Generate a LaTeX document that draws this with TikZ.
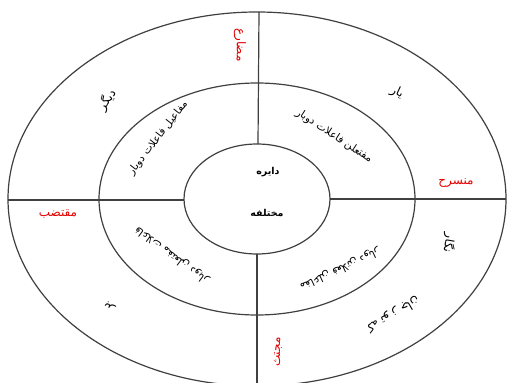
\documentclass[tikz,border=0pt]{standalone}
\usepackage{fontspec}
\newfontfamily\ar[Script=Arabic]{DejaVu Sans}
\TeXXeTstate=1
\begin{document}
\begin{tikzpicture}[x=1pt,y=-1pt,
  ring/.style={draw=black!75,line width=1.2pt},
  spoke/.style={draw=black!75,line width=1.2pt},
  redlbl/.style={text=red!90!black,font=\ar\fontsize{12}{13}\selectfont,inner sep=0pt},
  inlbl/.style={text=black,font=\ar\fontsize{10.5}{12}\selectfont,inner sep=0pt},
  outlbl/.style={text=black,font=\ar\fontsize{12}{13}\selectfont,inner sep=0pt},
  ctrlbl/.style={text=black,font=\ar\bfseries\fontsize{9.5}{11}\selectfont,inner sep=0pt}]
\useasboundingbox (0,0) rectangle (512,383);
\fill[white] (0,0) rectangle (512,383);
\coordinate (C) at (257,199);
% rings
\draw[ring] (C) ellipse [x radius=249pt, y radius=187pt];
\draw[ring] (C) ellipse [x radius=158pt, y radius=116pt];
\draw[ring] (C) ellipse [x radius=73pt, y radius=55pt];
% spokes
\coordinate (tO) at (259,12);  \coordinate (tI) at (258,144);
\coordinate (bO) at (257,386); \coordinate (bI) at (257,254);
\coordinate (lO) at (8,200);   \coordinate (lI) at (184,200);
\coordinate (rO) at (506,199); \coordinate (rI) at (330,199);
\draw[spoke] (tO) -- (tI);
\draw[spoke] (bO) -- (bI);
\draw[spoke] (lO) -- (lI);
\draw[spoke] (rO) -- (rI);
% centre
\node[ctrlbl] (c1) at (268,172) {\beginR دایره\endR};
\node[ctrlbl] (c2) at (267,213) {\beginR مختلفه\endR};
% red labels
\node[redlbl,rotate=-90] (mozare) at (240,45) {\beginR مضارع\endR};
\node[redlbl] (monsareh) at (456,183) {\beginR منسرح\endR};
\node[redlbl] (moqtazab) at (58,214) {\beginR مقتضب\endR};
\node[redlbl,rotate=90] (mojtas) at (278,352) {\beginR مجتث\endR};
% inner ring
\node[inlbl,rotate=52] (i1) at (158,138) {\beginR مفاعیل فاعلات دوبار\endR};
\node[inlbl,rotate=-33] (i2) at (334,136) {\beginR مفتعلن فاعلات دوبار\endR};
\node[inlbl,rotate=205] (i3) at (340,269) {\beginR مفاعلن فعلاتن دوبار\endR};
\node[inlbl,rotate=143] (i4) at (172,255) {\beginR فاعلات مفتعلن دوبار\endR};
% outer ring
\node[outlbl,rotate=55] (o1) at (107,100) {\beginR دیگر\endR};
\node[outlbl,rotate=-25] (o2) at (397,92) {\beginR یار\endR};
\node[outlbl,rotate=-100] (o3) at (449,243) {\beginR نگار\endR};
\node[outlbl,rotate=140] (o4) at (110,306) {\beginR بر\endR};
\node[outlbl,rotate=210] (o5) at (393,314) {\beginR که تو ز جان\endR};
\end{tikzpicture}
\end{document}
